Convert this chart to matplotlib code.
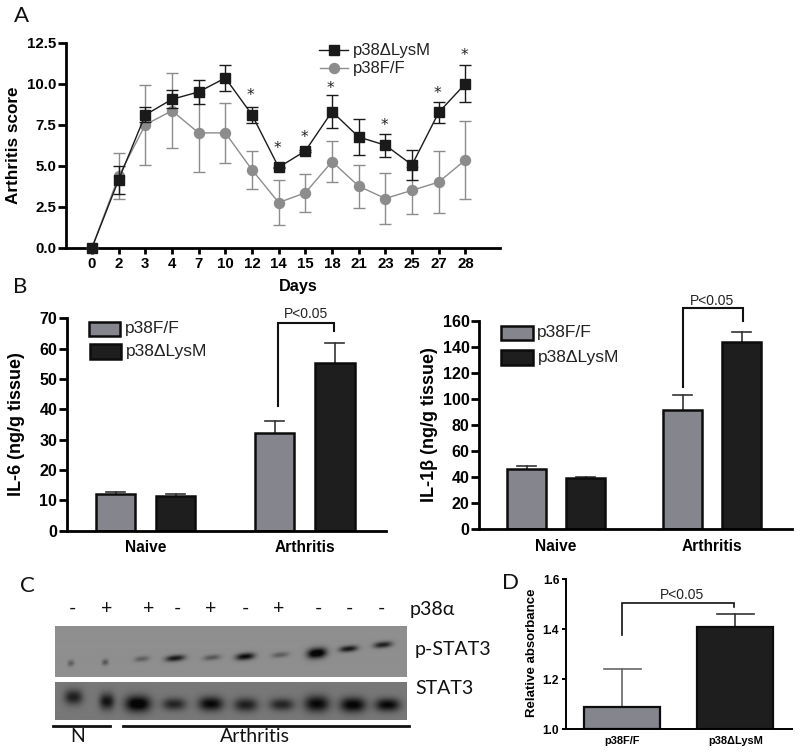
import numpy as np
import matplotlib
matplotlib.use("Agg")
import matplotlib.pyplot as plt
from matplotlib.patches import Rectangle

W, H = 800, 754
days = [0, 2, 3, 4, 7, 10, 12, 14, 15, 18, 21, 23, 25, 27, 28]
lysm_score = [0, 4.15, 8.1, 9.05, 9.5, 10.35, 8.1, 4.9, 5.9, 8.3, 6.75, 6.25, 5.05, 8.25, 10.0]
lysm_err = [0, 0.85, 0.45, 0.55, 0.75, 0.8, 0.5, 0.05, 0.05, 1.0, 1.12, 0.7, 0.9, 0.62, 1.12]
ff_score = [0, 4.35, 7.5, 8.35, 7.0, 7.0, 4.75, 2.75, 3.35, 5.25, 3.75, 3.0, 3.5, 4.0, 5.35]
ff_err = [0, 1.4, 2.45, 2.3, 2.4, 1.85, 1.15, 1.35, 1.15, 1.25, 1.3, 1.55, 1.45, 1.9, 2.4]
star_days = [12, 14, 15, 18, 23, 27, 28]
star_values = [9.45, 6.2, 6.9, 9.9, 7.6, 9.6, 11.9]

groups = ["Naive", "Arthritis"]
il6_ff = [12.2, 32.1]
il6_lysm = [11.5, 55.2]
il6_ff_top = [12.9, 36.0]
il6_lysm_top = [12.2, 62.0]
il1_ff = [46.0, 91.6]
il1_lysm = [39.6, 144.0]
il1_ff_top = [48.6, 103.0]
il1_lysm_top = [40.4, 151.0]

d_labels = ["p38F/F", "p38\u0394LysM"]
d_values = [1.09, 1.41]
d_tops = [1.243, 1.46]

signs = ["-", "+", "+", "-", "+", "-", "+", "-", "-", "-"]
pstat_strength = [0.35, 0.4, 0.35, 0.85, 0.4, 0.95, 0.35, 1.15, 0.85, 0.8]
stat_strength = [0.75, 0.85, 1.1, 0.7, 0.95, 0.75, 0.7, 0.95, 1.0, 0.95]

GRAY, DARK, LINEGRAY = "#85858d", "#1e1e1e", "#8c8c8c"
SANS = "Liberation Sans"
HUMAN = "Lato"
plt.rcParams["font.family"] = SANS

fig = plt.figure(figsize=(W / 100, H / 100), dpi=100)


def place(x0, x1, ytop, ybot):
    ax = fig.add_axes([x0 / W, 1 - ybot / H, (x1 - x0) / W, (ybot - ytop) / H])
    ax.patch.set_alpha(0)
    return ax


over = fig.add_axes([0, 0, 1, 1], zorder=10)
over.set_xlim(0, W)
over.set_ylim(H, 0)
over.axis("off")


def style(ax, lw, ticklen, size):
    for s in ("top", "right"):
        ax.spines[s].set_visible(False)
    for s in ("left", "bottom"):
        ax.spines[s].set_linewidth(lw)
    ax.tick_params(axis="y", width=lw, length=ticklen, labelsize=size, pad=1.5)
    for t in ax.get_yticklabels():
        t.set_fontweight("bold")


def ylabel_at(ax, text, x, y, size):
    ax.set_ylabel(text, fontweight="bold", fontsize=size)
    ax.yaxis.set_label_coords(x, y, transform=over.transData)
    ax.yaxis.label.set_va("center")


def bracket(x0, y0, ytop, x1, y1, text, tx, ty, lw=1.5):
    over.plot([x0, x0, x1, x1], [y0, ytop, ytop, y1], color="#111111", lw=lw, solid_joinstyle="miter")
    over.text(tx, ty, text, ha="center", va="center", fontsize=10, color="#222222")


# Panel A
axa = place(66, 500, 42.7, 247.7)
pos = np.arange(len(days))
axa.errorbar(pos, ff_score, yerr=ff_err, color=LINEGRAY, ecolor=LINEGRAY, marker="o", ms=7.2,
             lw=1.0, elinewidth=1.0, capsize=4.2, capthick=1.0, clip_on=False, zorder=3)
axa.errorbar(pos, lysm_score, yerr=lysm_err, color="#1a1a1a", ecolor="#1a1a1a", marker="s", ms=6.6,
             lw=1.0, elinewidth=1.0, capsize=4.2, capthick=1.0, clip_on=False, zorder=4)
axa.set_xlim((66 - 92) / 26.67, (500 - 92) / 26.67)
axa.set_ylim(0, 12.5)
axa.set_yticks([0, 2.5, 5, 7.5, 10, 12.5])
axa.set_yticklabels(["0.0", "2.5", "5.0", "7.5", "10.0", "12.5"])
axa.set_xticks(pos)
axa.set_xticklabels(days, fontweight="bold")
style(axa, 2.0, 5.5, 10.8)
axa.tick_params(axis="x", width=2.0, length=4.5, labelsize=10.8, pad=2)
ylabel_at(axa, "Arthritis score", 14, 145, 12.3)
axa.set_xlabel("Days", fontweight="bold", fontsize=11.7)
axa.xaxis.set_label_coords(298.5, 287, transform=over.transData)
axa.xaxis.label.set_va("center")
for d, v in zip(star_days, star_values):
    axa.annotate("*", (days.index(d) - 0.05, v), ha="center", va="center", fontsize=11, color="#222222",
                 family="DejaVu Sans", xytext=(0, -2), textcoords="offset points")
over.plot([319, 348], [50, 50], color="#1a1a1a", lw=1.0)
over.plot([333.5], [50], "s", color="#1a1a1a", ms=6.6)
over.plot([320, 348], [68, 68], color=LINEGRAY, lw=1.0)
over.plot([334], [68], "o", color=LINEGRAY, ms=7.2)
over.text(353, 50, "p38\u0394LysM", va="center", fontsize=12, color="#222222")
over.text(353, 68.5, "p38F/F", va="center", fontsize=12, color="#222222")
over.text(21, 16, "A", ha="center", va="center", family=HUMAN, fontsize=16, color="#111111")
over.text(20, 287, "B", ha="center", va="center", family=HUMAN, fontsize=16, color="#111111")
over.text(27, 586, "C", ha="center", va="center", family=HUMAN, fontsize=16, color="#111111")
over.text(510, 583, "D", ha="center", va="center", family=HUMAN, fontsize=16, color="#111111")


def bars(ax, ff, lysm, fft, lysmt, lw=1.8):
    xs = np.array([0, 1, 2.65, 3.65])
    vals = [ff[0], lysm[0], ff[1], lysm[1]]
    tops = [fft[0], lysmt[0], fft[1], lysmt[1]]
    cols = [GRAY, DARK, GRAY, DARK]
    for x, v, t, c in zip(xs, vals, tops, cols):
        ax.plot([x, x], [v, t], color="#333333", lw=1.2, zorder=1)
        ax.plot([x - 0.16, x + 0.16], [t, t], color="#333333", lw=1.2, zorder=1)
        ax.bar(x, v, width=0.655, color=c, edgecolor="#0c0c0c", linewidth=lw, zorder=2)
    ax.set_xticks([0.5, 3.15])
    ax.set_xticklabels(groups, fontweight="bold")
    ax.tick_params(axis="x", length=0, labelsize=11.2, pad=7)


# Panel B left
axb = place(67, 386, 318.3, 530.7)
bars(axb, il6_ff, il6_lysm, il6_ff_top, il6_lysm_top)
step = 60.1
axb.set_xlim((67 - 115.5) / step, (386 - 115.5) / step)
axb.set_ylim(0, 70)
axb.set_yticks(range(0, 71, 10))
style(axb, 2.0, 5.5, 11.5)
ylabel_at(axb, "IL-6 (ng/g tissue)", 17, 424, 13)

# Panel B right
axc = place(479.3, 791.7, 320.7, 529.3)
bars(axc, il1_ff, il1_lysm, il1_ff_top, il1_lysm_top)
step = 58.9
axc.set_xlim((479.3 - 526.7) / step, (791.7 - 526.7) / step)
axc.set_ylim(0, 160)
axc.set_yticks(range(0, 161, 20))
style(axc, 2.0, 5.5, 11.5)
ylabel_at(axc, "IL-1\u03b2 (ng/g tissue)", 429, 425, 13)

for (xa, xb, ya0, ya1, yb0, yb1, tx) in [(89, 120, 322.3, 335.7, 344.3, 359, 125),
                                         (501, 532.7, 326, 340, 350, 365, 536.7)]:
    over.add_patch(Rectangle((xa, ya0), xb - xa, ya1 - ya0, fc=GRAY, ec="#0c0c0c", lw=1.8))
    over.add_patch(Rectangle((xa + (1 if tx == 125 else 0), yb0), xb - xa, yb1 - yb0, fc=DARK, ec="#0c0c0c", lw=1.8))
    over.text(tx, (ya0 + ya1) / 2 - 0.5, "p38F/F", va="center", fontsize=12.5, color="#222222")
    over.text(tx + 1, (yb0 + yb1) / 2, "p38\u0394LysM", va="center", fontsize=12.5, color="#222222")
bracket(278.3, 406, 322.7, 334, 330.7, "P<0.05", 305.7, 314)
bracket(683.3, 386.7, 307.7, 742.7, 320.7, "P<0.05", 711.7, 300.7)

# Panel C: blot drawn from band strengths per lane
lane_x = np.array([212, 315, 425, 525, 635, 735, 840, 950, 1045, 1148]) / 3
pstat_y = 560 + np.array([311, 308, 298, 296, 294, 291, 286, 281, 268, 256]) / 3
pstat_w = np.array([12, 12, 28, 36, 32, 35, 32, 36, 34, 34]) / 3
pstat_h = np.array([9, 9, 8, 9, 8, 10, 8, 15, 9, 9]) / 3
stat_x = np.array([220, 320, 413, 522, 632, 737, 845, 950, 1058, 1162]) / 3
stat_y = 560 + np.array([412, 425, 432, 433, 432, 435, 434, 432, 435, 435]) / 3
stat_w = np.array([34, 28, 48, 44, 46, 44, 46, 46, 48, 46]) / 3
stat_h = np.array([22, 24, 24, 18, 21, 20, 18, 24, 22, 19]) / 3


def blot(x0, x1, y0, y1, xs, ys, ws, hs, strengths, base, tilt=0.0):
    ax = place(x0, x1, y0, y1)
    X, Y = np.meshgrid(np.arange(x0, x1, 0.5), np.arange(y0, y1, 0.5))
    dark = np.zeros(X.shape)
    for x, y, w, h, s in zip(xs, ys, ws, hs, strengths):
        yy = Y - y + tilt * (X - x)
        dark += s * np.exp(-np.abs((X - x) / (w * 0.8)) ** 2.6 - (yy / h) ** 2)
    img = base * np.clip(1 - dark, 0.05, 1)
    ax.imshow(img, extent=(x0, x1, y1, y0), cmap="gray", vmin=0, vmax=1, aspect="auto", interpolation="bilinear")
    ax.axis("off")


blot(55, 407, 626, 677.5, lane_x, pstat_y, pstat_w, pstat_h, pstat_strength, 0.56, tilt=0.09)
blot(55, 407, 681.7, 720, stat_x, stat_y, stat_w, stat_h, stat_strength, 0.47)

sign_x = np.array([218, 320, 447, 532, 632, 735, 835, 955, 1048, 1145]) / 3
for x, s in zip(sign_x, signs):
    over.text(x, 608, s, ha="center", va="center", fontsize=14, family=HUMAN, color="#111111")
over.text(410, 609, "p38\u03b1", va="center", fontsize=14, family=HUMAN, color="#111111")
over.text(415, 650, "p-STAT3", va="center", fontsize=14, family=HUMAN, color="#111111")
over.text(415, 689, "STAT3", va="center", fontsize=14, family=HUMAN, color="#111111")
over.text(78, 737, "N", ha="center", va="center", fontsize=14, family=HUMAN, color="#111111")
over.text(255, 737, "Arthritis", ha="center", va="center", fontsize=14, family=HUMAN, color="#111111")
over.plot([53, 109.5], [725.7, 725.7], color="#111111", lw=2)
over.plot([122.7, 409], [725.7, 725.7], color="#111111", lw=2)

# Panel D
axd = place(565.7, 792, 579.3, 729.3)
xs = np.arange(len(d_values))
for x, v, t, c in zip(xs, d_values, d_tops, [GRAY, DARK]):
    col = "#666666" if c == GRAY else "#333333"
    axd.plot([x, x], [v, t], color=col, lw=1.2, zorder=1)
    axd.plot([x - 0.165, x + 0.165], [t, t], color=col, lw=1.2, zorder=1)
    axd.bar(x, v - 1.0, bottom=1.0, width=0.672, color=c, edgecolor="#0c0c0c", linewidth=1.6, zorder=2)
axd.set_xlim((565.7 - 622.3) / 113, (792 - 622.3) / 113)
axd.set_ylim(1.0, 1.6)
axd.set_yticks([1.0, 1.2, 1.4, 1.6])
axd.set_yticklabels(["1.0", "1.2", "1.4", "1.6"])
axd.set_xticks(xs)
axd.set_xticklabels(d_labels, fontweight="bold")
style(axd, 1.4, 3.2, 8.6)
axd.tick_params(axis="x", length=0, labelsize=7.9, pad=5)
ylabel_at(axd, "Relative absorbance", 531.7, 653, 9.5)
bracket(622.3, 635, 603, 734, 606.7, "P<0.05", 682, 594.7, lw=1.2)

fig.savefig("out.png", dpi=100)
